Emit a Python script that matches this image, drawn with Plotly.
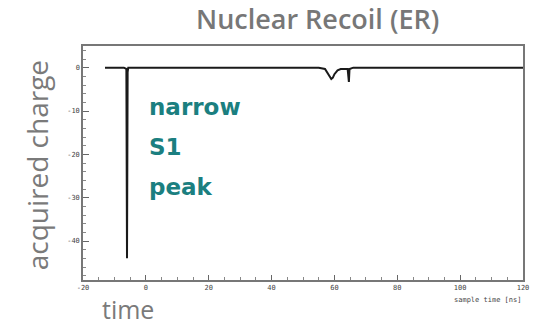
import plotly.graph_objects as go

# waveform samples (time in ns, charge)
t = [-13, -7, -6.2, -6.0, -5.8, -5.6, 20, 40, 55, 57, 58, 58.5, 59, 59.5, 60, 61, 62, 64.2, 64.4, 64.6, 64.8, 66, 80, 100, 120]
q = [0, 0, -0.3, -44, -1, 0, 0, 0, 0, -0.3, -1.5, -2.3, -2.6, -2.3, -1.5, -0.6, -0.3, -0.3, -3.3, -3.3, -0.3, 0, 0, 0, 0]

x_ticks = [-20, 0, 20, 40, 60, 80, 100, 120]
y_ticks = [0, -10, -20, -30, -40]

fig = go.Figure()
fig.add_trace(go.Scatter(x=t, y=q, mode="lines", line=dict(color="#1a1a1a", width=2), showlegend=False))

fig.update_layout(
    width=549, height=327,
    margin=dict(l=83, r=26, t=46, b=47),
    paper_bgcolor="white", plot_bgcolor="white",
    font=dict(family="DejaVu Sans Mono", size=7, color="#444444"),
    xaxis=dict(range=[-20, 120], tickvals=x_ticks, ticktext=[str(v) for v in x_ticks],
               ticks="inside", ticklen=5, tickcolor="#666666", showline=True, linecolor="#777777",
               linewidth=1.5, mirror=True, showgrid=False, zeroline=False,
               minor=dict(dtick=5, ticks="inside", ticklen=3, tickcolor="#888888")),
    yaxis=dict(range=[-49, 5], tickvals=y_ticks, ticktext=[str(v) for v in y_ticks],
               ticks="inside", ticklen=6, tickcolor="#666666", showline=True, linecolor="#777777",
               linewidth=1.5, mirror=True, showgrid=False, zeroline=False,
               minor=dict(dtick=2, ticks="inside", ticklen=3, tickcolor="#888888")),
)

fig.add_annotation(text="Nuclear Recoil (ER)", xref="paper", yref="paper", x=0.534, y=1.0,
                   xanchor="center", yanchor="middle", yshift=28, showarrow=False,
                   font=dict(family="Open Sans", size=27, weight=600, color="#777777"))
fig.add_annotation(text="acquired charge", xref="paper", yref="paper", x=0, y=0.49, xshift=-46,
                   xanchor="center", textangle=-90, showarrow=False,
                   font=dict(family="Open Sans", size=28, color="#7a7a7a"))
fig.add_annotation(text="time", xref="paper", yref="paper", x=0.102, y=0, xanchor="center",
                   yanchor="middle", yshift=-29, showarrow=False, borderpad=0,
                   font=dict(family="Open Sans", size=25, color="#7a7a7a"))
fig.add_annotation(text="sample time [ns]", xref="paper", yref="paper", x=1.0, xanchor="right",
                   y=0, yanchor="middle", yshift=-20, showarrow=False,
                   font=dict(family="DejaVu Sans Mono", size=7, color="#444444"))
for label, yv in [("narrow", -9), ("S1", -18.4), ("peak", -27.6)]:
    fig.add_annotation(text="<b>" + label + "</b>", x=0.4, y=yv, xanchor="left", showarrow=False,
                       font=dict(family="DejaVu Sans", size=23, color="#1b7f80"))

fig.write_html("out.html")
